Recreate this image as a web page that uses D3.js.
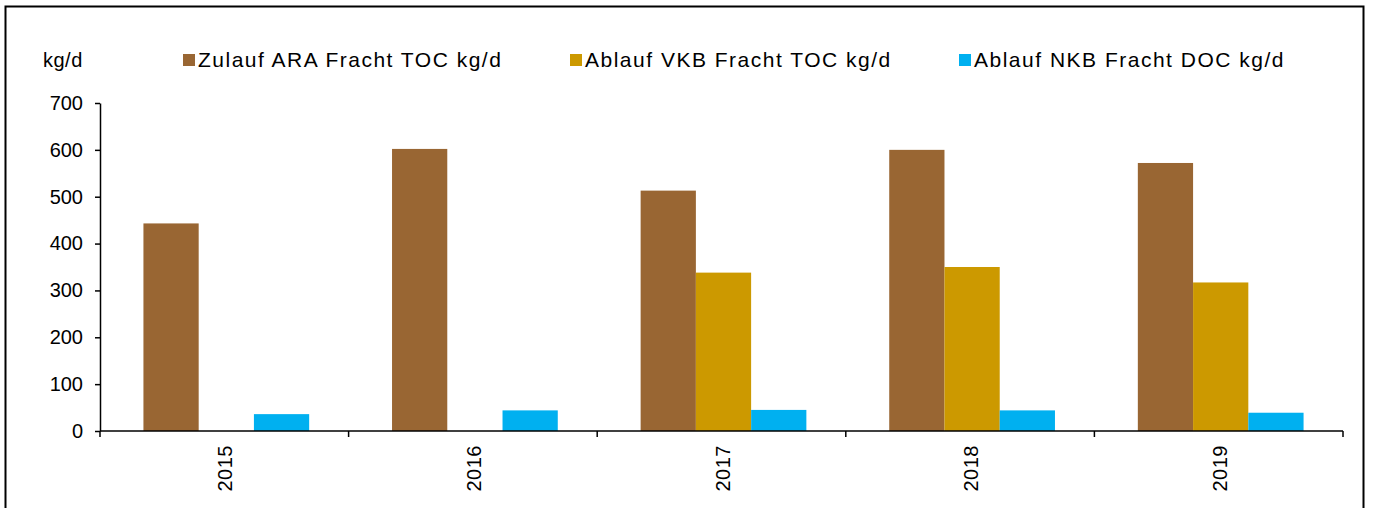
<!DOCTYPE html>
<html>
<head>
<meta charset="utf-8">
<script src="https://cdn.jsdelivr.net/npm/d3@7"></script>
<style>
  body { margin: 0; background: #fff; }
  svg { display: block; font-family: "Liberation Sans", Arial, sans-serif; }
</style>
</head>
<body>
<div id="chart"></div>
<script>
const years = ["2015", "2016", "2017", "2018", "2019"];
const seriesNames = ["Zulauf ARA Fracht TOC kg/d", "Ablauf VKB Fracht TOC kg/d", "Ablauf NKB Fracht DOC kg/d"];
const zulaufAra = [443, 602, 513, 600, 572];
const ablaufVkb = [null, null, 338, 350, 317];
const ablaufNkb = [36, 44, 45, 44, 39];
const yTicks = [0, 100, 200, 300, 400, 500, 600, 700];
const colors = ["#996633", "#CC9900", "#00B0F0"];

const width = 1373, height = 508;
const margin = { top: 103, right: 30, bottom: 77, left: 100 };

const data = years.map((y, i) => ({
    year: y,
    values: [zulaufAra[i], ablaufVkb[i], ablaufNkb[i]]
}));

const svg = d3.select("#chart")
    .append("svg")
    .attr("width", width)
    .attr("height", height);

// outer frame
svg.append("rect")
    .attr("x", 5.5).attr("y", 6.5)
    .attr("width", 1358).attr("height", 520)
    .attr("fill", "none")
    .attr("stroke", "#000")
    .attr("stroke-width", 2);

const x0 = d3.scaleBand()
    .domain(years)
    .range([margin.left, width - margin.right])
    .padding(0);

const x1 = d3.scaleBand()
    .domain([0, 1, 2])
    .range([0, x0.bandwidth()])
    .paddingInner(0)
    .paddingOuter(0.75);

const y = d3.scaleLinear()
    .domain([0, 700])
    .range([height - margin.bottom, margin.top]);

// bars
svg.append("g")
    .selectAll("g")
    .data(data)
    .join("g")
    .attr("transform", d => `translate(${x0(d.year) + 2},0)`)
    .selectAll("rect")
    .data(d => d.values.map((v, k) => ({ k, v })).filter(e => e.v != null))
    .join("rect")
    .attr("x", d => x1(d.k))
    .attr("width", x1.bandwidth())
    .attr("y", d => y(d.v))
    .attr("height", d => y(0) - y(d.v))
    .attr("fill", d => colors[d.k]);

// y axis
const yAxis = svg.append("g")
    .attr("transform", `translate(${margin.left},0)`)
    .call(d3.axisLeft(y).tickValues(yTicks).tickSize(5).tickPadding(12).tickSizeOuter(0));
yAxis.select(".domain").attr("stroke-width", 1.5);
yAxis.selectAll(".tick line").attr("stroke-width", 1.5);
yAxis.selectAll("text").attr("font-size", 20).attr("fill", "#000")
    .attr("font-family", "Liberation Sans, Arial, sans-serif");

// x axis with ticks at category boundaries
const xAxis = svg.append("g")
    .attr("transform", `translate(0,${y(0)})`);
xAxis.append("line")
    .attr("x1", margin.left).attr("x2", width - margin.right)
    .attr("stroke", "#000").attr("stroke-width", 1.5);
xAxis.selectAll(".sep")
    .data(years.concat(["end"]))
    .join("line")
    .attr("class", "sep")
    .attr("x1", (d, i) => i < years.length ? x0(d) : x0.range()[1])
    .attr("x2", (d, i) => i < years.length ? x0(d) : x0.range()[1])
    .attr("y1", 0).attr("y2", 6)
    .attr("stroke", "#000").attr("stroke-width", 1.5);
xAxis.selectAll(".lbl")
    .data(years)
    .join("text")
    .attr("class", "lbl")
    .attr("transform", d => `translate(${x0(d) + x0.bandwidth() / 2 + 8},14) rotate(-90)`)
    .attr("text-anchor", "end")
    .attr("font-size", 20)
    .attr("letter-spacing", 0.5)
    .text(d => d);

// unit label
svg.append("text")
    .attr("x", 43).attr("y", 67)
    .attr("font-size", 20)
    .attr("letter-spacing", 0.5)
    .text("kg/d");

// legend
const legendX = [198, 585, 974];
const legend = svg.append("g")
    .selectAll("g")
    .data(seriesNames)
    .join("g")
    .attr("transform", (d, i) => `translate(${legendX[i]},0)`);
legend.append("rect")
    .attr("x", -15).attr("y", 54)
    .attr("width", 12).attr("height", 12)
    .attr("fill", (d, i) => colors[i]);
legend.append("text")
    .attr("x", 0).attr("y", 67)
    .attr("font-size", 21)
    .attr("letter-spacing", 1.5)
    .text(d => d);
</script>
</body>
</html>
